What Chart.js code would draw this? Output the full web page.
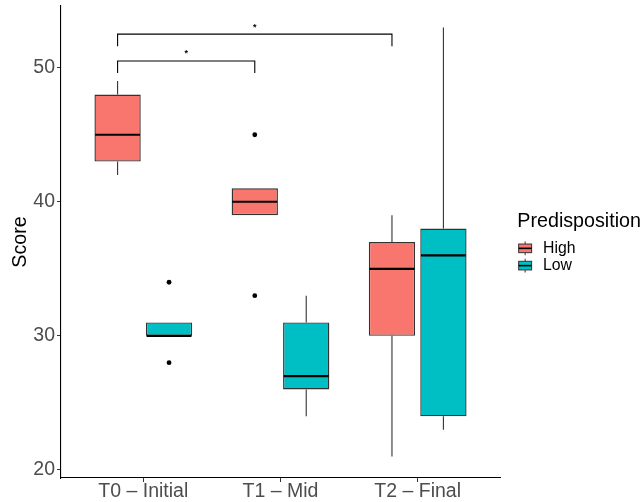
<!DOCTYPE html>
<html>
<head>
<meta charset="utf-8">
<script src="https://cdn.jsdelivr.net/npm/chart.js@4/dist/chart.umd.min.js"></script>
<style>
html, body { margin: 0; padding: 0; background: #ffffff; }
#wrap { width: 642px; height: 502px; }
</style>
</head>
<body>
<div id="wrap"><canvas id="c" width="642" height="502"></canvas></div>
<script>
// ---- data ----
const categories = ['T0 \u2013 Initial', 'T1 \u2013 Mid', 'T2 \u2013 Final'];
const groups = ['High', 'Low'];
const yTicks = [20, 30, 40, 50];

const highMin    = [42, 39, 21];
const highQ1     = [43, 39, 30];
const highMedian = [45, 40, 35];
const highQ3     = [48, 41, 37];
const highMax    = [49, 41, 39];
const highOutliers = [[], [33, 45], []];

const lowMin    = [30, 24, 23];
const lowQ1     = [30, 26, 24];
const lowMedian = [30, 27, 36];
const lowQ3     = [31, 31, 38];
const lowMax    = [31, 33, 53];
const lowOutliers = [[28, 34], [], []];

// significance brackets (High group): from category index, to category index, bracket level, label
const sigFrom  = [0, 0];
const sigTo    = [1, 2];
const sigLevel = [50.5, 52.5];
const sigLabel = ['*', '*'];

// ---- styling / layout ----
const colors = ['#F8766D', '#00BFC4'];
const dodge = [-0.1875, 0.1875];
const tipLength = 0.9;
const FONT = "'Liberation Sans', Arial, Helvetica, sans-serif";

const stats = [
  { min: highMin, q1: highQ1, med: highMedian, q3: highQ3, max: highMax, out: highOutliers },
  { min: lowMin,  q1: lowQ1,  med: lowMedian,  q3: lowQ3,  max: lowMax,  out: lowOutliers }
];

const datasets = [];
stats.forEach((s, g) => {
  datasets.push({
    type: 'bar',
    label: groups[g],
    data: categories.map((c, i) => ({ x: i + 1 + dodge[g], y: [s.q1[i], s.q3[i]] })),
    backgroundColor: colors[g],
    borderColor: '#333333',
    borderWidth: 1.4,
    borderSkipped: false,
    grouped: false,
    categoryPercentage: 1,
    barPercentage: 0.9,
    order: 2
  });
});
stats.forEach((s, g) => {
  const pts = [];
  s.out.forEach((arr, i) => arr.forEach(v => pts.push({ x: i + 1 + dodge[g], y: v })));
  datasets.push({
    type: 'scatter',
    label: groups[g] + ' outliers',
    data: pts,
    backgroundColor: '#000000',
    borderWidth: 0,
    pointRadius: 2.4,
    order: 1
  });
});
sigFrom.forEach((f, k) => {
  const x1 = f + 1 + dodge[0], x2 = sigTo[k] + 1 + dodge[0];
  const lv = sigLevel[k];
  datasets.push({
    type: 'line',
    label: 'sig' + k,
    data: [{ x: x1, y: lv - tipLength }, { x: x1, y: lv }, { x: x2, y: lv }, { x: x2, y: lv - tipLength }],
    borderColor: '#000000',
    borderWidth: 1.1,
    pointRadius: 0,
    fill: false,
    tension: 0,
    order: 0
  });
});

const boxPlugin = {
  id: 'boxExtras',
  beforeDatasetsDraw(chart) {
    const ctx = chart.ctx, y = chart.scales.y;
    ctx.save();
    ctx.strokeStyle = '#333333';
    ctx.lineWidth = 1.1;
    stats.forEach((s, g) => {
      const meta = chart.getDatasetMeta(g);
      meta.data.forEach((bar, i) => {
        const x = bar.x;
        ctx.beginPath();
        ctx.moveTo(x, y.getPixelForValue(s.q3[i]));
        ctx.lineTo(x, y.getPixelForValue(s.max[i]));
        ctx.moveTo(x, y.getPixelForValue(s.q1[i]));
        ctx.lineTo(x, y.getPixelForValue(s.min[i]));
        ctx.stroke();
      });
    });
    ctx.restore();
  },
  afterDatasetsDraw(chart) {
    const ctx = chart.ctx, y = chart.scales.y, xs = chart.scales.x;
    ctx.save();
    ctx.strokeStyle = '#000000';
    ctx.lineWidth = 2.2;
    stats.forEach((s, g) => {
      const meta = chart.getDatasetMeta(g);
      meta.data.forEach((bar, i) => {
        const py = y.getPixelForValue(s.med[i]);
        ctx.beginPath();
        ctx.moveTo(bar.x - bar.width / 2 + 0.7, py);
        ctx.lineTo(bar.x + bar.width / 2 - 0.7, py);
        ctx.stroke();
      });
    });
    // significance labels
    ctx.fillStyle = '#000000';
    ctx.font = 'bold 9px ' + FONT;
    ctx.textAlign = 'center';
    ctx.textBaseline = 'alphabetic';
    sigFrom.forEach((f, k) => {
      const xm = xs.getPixelForValue(((f + 1 + dodge[0]) + (sigTo[k] + 1 + dodge[0])) / 2);
      const py = y.getPixelForValue(sigLevel[k]);
      ctx.fillText(sigLabel[k], xm, py - 4.5);
    });
    ctx.restore();
  },
  afterDraw(chart) {
    const ctx = chart.ctx, ca = chart.chartArea;
    const left = ca.right + 16.5;
    const cy = (ca.top + ca.bottom) / 2;
    ctx.save();
    ctx.fillStyle = '#000000';
    ctx.font = '19.7px ' + FONT;
    ctx.textAlign = 'left';
    ctx.textBaseline = 'alphabetic';
    ctx.fillText('Predisposition', left + 0.8, cy - 15);
    const key = 17.28;
    groups.forEach((gname, g) => {
      const top = cy - 2.3 + g * key;
      const cx = left + key / 2;
      ctx.strokeStyle = '#333333';
      ctx.lineWidth = 1;
      ctx.beginPath();
      ctx.moveTo(cx, top + key * 0.1); ctx.lineTo(cx, top + key * 0.25);
      ctx.moveTo(cx, top + key * 0.75); ctx.lineTo(cx, top + key * 0.9);
      ctx.stroke();
      ctx.fillStyle = colors[g];
      ctx.fillRect(left + key * 0.125, top + key * 0.25, key * 0.75, key * 0.5);
      ctx.strokeRect(left + key * 0.125, top + key * 0.25, key * 0.75, key * 0.5);
      ctx.strokeStyle = '#000000';
      ctx.lineWidth = 1.6;
      ctx.beginPath();
      ctx.moveTo(left + key * 0.125, top + key / 2);
      ctx.lineTo(left + key * 0.875, top + key / 2);
      ctx.stroke();
      ctx.fillStyle = '#000000';
      ctx.font = '15.8px ' + FONT;
      ctx.textBaseline = 'middle';
      ctx.fillText(gname, left + 26.5, top + key / 2 + 0.5);
      ctx.textBaseline = 'alphabetic';
    });
    ctx.restore();
  }
};

new Chart(document.getElementById('c'), {
  type: 'bar',
  data: { datasets },
  options: {
    responsive: false,
    animation: false,
    devicePixelRatio: 1,
    layout: { padding: { top: 6, right: 142, bottom: 0, left: 0 } },
    plugins: {
      legend: { display: false },
      tooltip: { enabled: false }
    },
    scales: {
      x: {
        type: 'linear',
        min: 0.4,
        max: 3.6,
        offset: false,
        grid: { display: true, offset: false, drawOnChartArea: false, drawTicks: true, tickLength: 4, color: '#333333', lineWidth: 1 },
        border: { display: true, color: '#000000', width: 1.1 },
        afterBuildTicks(scale) { scale.ticks = categories.map((c, i) => ({ value: i + 1 })); },
        afterFit(scale) { scale.height = 24; scale.paddingLeft = 0; scale.paddingRight = 0; },
        ticks: {
          autoSkip: false,
          maxRotation: 0,
          minRotation: 0,
          padding: -2.4,
          color: '#4D4D4D',
          font: { family: FONT, size: 19.5 },
          callback: (v) => categories[Math.round(v) - 1]
        }
      },
      y: {
        type: 'linear',
        min: 19.4,
        max: 54.6,
        grid: { display: true, drawOnChartArea: false, drawTicks: true, tickLength: 4, color: '#333333', lineWidth: 1 },
        border: { display: true, color: '#000000', width: 1.1 },
        afterBuildTicks(scale) { scale.ticks = yTicks.map(v => ({ value: v })); },
        afterFit(scale) { scale.width = 61; scale.paddingTop = 0; scale.paddingBottom = 0; },
        title: {
          display: true,
          text: 'Score',
          color: '#000000',
          font: { family: FONT, size: 19.7 },
          padding: { top: 8.5, bottom: 0 }
        },
        ticks: {
          padding: 2,
          color: '#4D4D4D',
          font: { family: FONT, size: 19.5 },
          callback: (v) => String(v)
        }
      }
    }
  },
  plugins: [boxPlugin]
});
</script>
</body>
</html>
